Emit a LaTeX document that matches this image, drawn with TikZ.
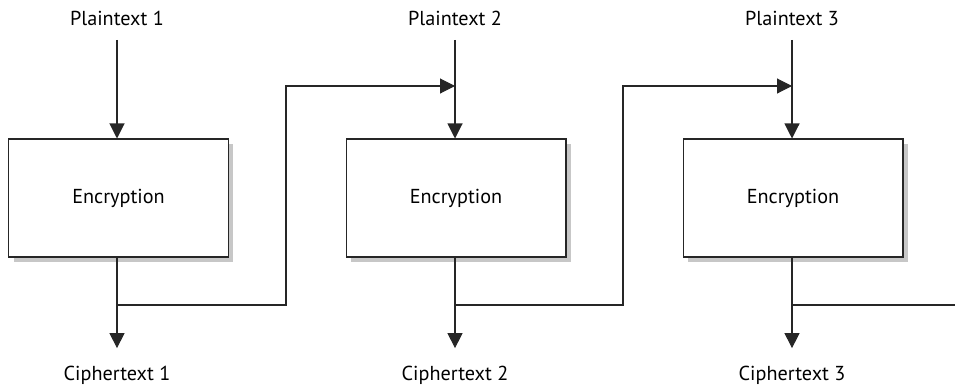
\documentclass[tikz,border=0pt]{standalone}
\usepackage{fontspec}
\setmainfont{PT Sans}
\usetikzlibrary{arrows.meta,shadows}

\begin{document}
\begin{tikzpicture}[x=.02cm,y=-.02cm,line width=.6pt,font=\fontsize{11.5}{13}\selectfont,
  encbox/.style={draw=black!85,fill=white,minimum width=4.4cm,minimum height=2.36cm,inner sep=0pt,
    drop shadow={shadow xshift=.1cm,shadow yshift=-.1cm,fill=black!22,opacity=1}},
  txt/.style={inner sep=0pt,text height=8pt,text depth=2pt},
  flow/.style={draw=black!85,-{Triangle[width=.3cm,length=.3cm]}},
  wire/.style={draw=black!85}]
\useasboundingbox (0,0) rectangle (955,386);
% blocks
\node[encbox] (enc1) at (118.5,198) {Encryption};
\node[encbox] (enc2) at (456,198) {Encryption};
\node[encbox] (enc3) at (793,198) {Encryption};
% labels
\node[txt] (p1) at (117,20) {Plaintext 1};
\node[txt] (p2) at (455,20) {Plaintext 2};
\node[txt] (p3) at (792,20) {Plaintext 3};
\node[txt] (c1) at (117,375) {Ciphertext 1};
\node[txt] (c2) at (455,375) {Ciphertext 2};
\node[txt] (c3) at (792,375) {Ciphertext 3};
% joints
\coordinate (j1) at (117,305);
\coordinate (j2) at (455,305);
\coordinate (j3) at (792,305);
\coordinate (k1) at (286,86);
\coordinate (k2) at (623,86);
\coordinate (in2) at (455,86);
\coordinate (in3) at (792,86);
\coordinate (out) at (955,305);
% inputs and outputs
\draw[flow,shorten <=6pt] (p1) -- (p1|-enc1.north);
\draw[flow,shorten <=6pt] (p2) -- (p2|-enc2.north);
\draw[flow,shorten <=6pt] (p3) -- (p3|-enc3.north);
\draw[flow,shorten >=10pt] (c1|-enc1.south) -- (c1);
\draw[flow,shorten >=10pt] (c2|-enc2.south) -- (c2);
\draw[flow,shorten >=10pt] (c3|-enc3.south) -- (c3);
% chaining
\draw[flow] (j1) -| (k1) -- (in2);
\draw[flow] (j2) -| (k2) -- (in3);
\draw[wire] (j3) -- (out);
\end{tikzpicture}
\end{document}
